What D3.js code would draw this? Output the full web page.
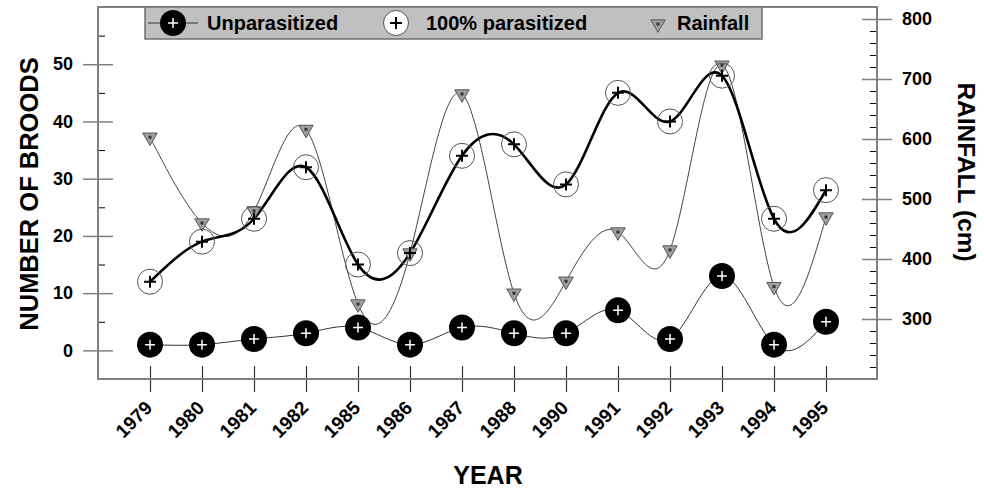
<!DOCTYPE html>
<html>
<head>
<meta charset="utf-8">
<script src="https://cdn.jsdelivr.net/npm/d3@7/dist/d3.min.js"></script>
<style>
  html, body { margin: 0; padding: 0; background: #fff; }
  svg { display: block; font-family: "Liberation Sans", Arial, sans-serif; font-weight: bold; }
</style>
</head>
<body>
<svg id="chart" width="984" height="488"></svg>
<script>
// Survey years (not consecutive)
const years = ["1979","1980","1981","1982","1985","1986","1987","1988","1990","1991","1992","1993","1994","1995"];
// Number of broods per year
const unparasitized = [1, 1, 2, 3, 4, 1, 4, 3, 3, 7, 2, 13, 1, 5];
const parasitized100 = [12, 19, 23, 32, 15, 17, 34, 36, 29, 45, 40, 48, 23, 28];
// Annual rainfall (cm)
const rainfall = [603, 460, 480, 616, 325, 410, 675, 343, 363, 445, 415, 723, 354, 470];

const leftTicks = [0, 10, 20, 30, 40, 50];
const leftMinor = [5, 15, 25, 35, 45, 55];
const rightTicks = [300, 400, 500, 600, 700, 800];
const rightMinor = [220, 240, 260, 280, 320, 340, 360, 380, 420, 440, 460, 480, 520, 540, 560, 580, 620, 640, 660, 680, 720, 740, 760, 780];
const seriesNames = ["Unparasitized", "100% parasitized", "Rainfall"];

const svg = d3.select("#chart");
const L = 98, R = 877, T = 7, B = 379;
const FONT = "Liberation Sans, Arial, sans-serif";

const x = d3.scalePoint().domain(years).range([L, R + 1]).padding(1);
const yL = d3.scaleLinear().domain([-5, 60]).range([B, T]);
const yR = d3.scaleLinear().domain([200, 820]).range([B, T]);

const frameColor = "#808080";

// Minor ticks (inside the frame)
svg.append("g").attr("transform", `translate(${L},0)`)
  .call(d3.axisRight(yL).tickValues(leftMinor).tickSize(7).tickFormat(""))
  .call(g => g.select(".domain").remove())
  .call(g => g.selectAll("line").attr("stroke", "#000"));
svg.append("g").attr("transform", `translate(${R},0)`)
  .call(d3.axisLeft(yR).tickValues(rightMinor).tickSize(7).tickFormat(""))
  .call(g => g.select(".domain").remove())
  .call(g => g.selectAll("line").attr("stroke", "#000"));

// Left axis, major ticks crossing the frame
svg.append("g").attr("transform", `translate(${L},0)`)
  .call(d3.axisLeft(yL).tickValues(leftTicks).tickSize(15).tickPadding(10))
  .attr("font-size", 18).attr("font-family", FONT)
  .call(g => g.select(".domain").remove())
  .call(g => g.selectAll("line").attr("x1", -15).attr("x2", 15).attr("stroke", frameColor).attr("stroke-width", 1.5))
  .call(g => g.selectAll("text").attr("fill", "#000"));

// Right axis
svg.append("g").attr("transform", `translate(${R},0)`)
  .call(d3.axisRight(yR).tickValues(rightTicks).tickSize(15).tickPadding(10))
  .attr("font-size", 18).attr("font-family", FONT)
  .call(g => g.select(".domain").remove())
  .call(g => g.selectAll("line").attr("x1", -15).attr("x2", 15).attr("stroke", frameColor).attr("stroke-width", 1.5))
  .call(g => g.selectAll("text").attr("fill", "#000"));

// Bottom axis with rotated year labels
svg.append("g").attr("transform", `translate(0,${B})`)
  .call(d3.axisBottom(x).tickSize(13).tickPadding(0))
  .attr("font-size", 19).attr("font-family", FONT)
  .call(g => g.select(".domain").remove())
  .call(g => g.selectAll("line").attr("y1", -13).attr("y2", 13).attr("stroke", "#333").attr("stroke-width", 1.2))
  .call(g => g.selectAll("text")
    .attr("fill", "#000")
    .attr("text-anchor", "end").attr("dy", null).attr("y", null)
    .attr("transform", "translate(3,30) rotate(-45)"));

// Frame
svg.append("rect").attr("x", L).attr("y", T).attr("width", R - L).attr("height", B - T)
  .attr("fill", "none").attr("stroke", frameColor).attr("stroke-width", 2);

// Lines
const lineL = vals => d3.line().x((d, i) => x(years[i])).y(d => yL(d)).curve(d3.curveNatural)(vals);
const lineR = vals => d3.line().x((d, i) => x(years[i])).y(d => yR(d)).curve(d3.curveNatural)(vals);

svg.append("path").attr("d", lineR(rainfall)).attr("fill", "none").attr("stroke", "#444").attr("stroke-width", 1);
svg.append("path").attr("d", lineL(unparasitized)).attr("fill", "none").attr("stroke", "#333").attr("stroke-width", 1);
svg.append("path").attr("d", lineL(parasitized100)).attr("fill", "none").attr("stroke", "#000").attr("stroke-width", 2.6);

// Marker helpers
const tri = d3.symbol().type(d3.symbolTriangle).size(90)();
function rainMarker(g, cx, cy) {
  g.append("path").attr("d", tri).attr("transform", `translate(${cx},${cy}) rotate(180)`)
    .attr("fill", "#a0a0a0").attr("stroke", "#555").attr("stroke-width", 1);
  g.append("rect").attr("x", cx - 1.5).attr("y", cy - 1.5).attr("width", 3).attr("height", 3).attr("fill", "#333");
}
function plus(g, cx, cy, r, color, w) {
  g.append("path").attr("d", `M${cx - r},${cy}H${cx + r}M${cx},${cy - r}V${cy + r}`)
    .attr("stroke", color).attr("stroke-width", w).attr("fill", "none");
}
function openMarker(g, cx, cy, fill) {
  g.append("circle").attr("cx", cx).attr("cy", cy).attr("r", 12.5)
    .attr("fill", fill).attr("stroke", "#555").attr("stroke-width", 1);
  plus(g, cx, cy, 6, "#000", 2);
}
function filledMarker(g, cx, cy) {
  g.append("circle").attr("cx", cx).attr("cy", cy).attr("r", 13).attr("fill", "#000");
  plus(g, cx, cy, 5, "#fff", 1.5);
}

const marks = svg.append("g");
rainfall.forEach((v, i) => rainMarker(marks, x(years[i]), yR(v)));
parasitized100.forEach((v, i) => openMarker(marks, x(years[i]), yL(v), "none"));
unparasitized.forEach((v, i) => filledMarker(marks, x(years[i]), yL(v)));

// Legend
const leg = svg.append("g");
leg.append("rect").attr("x", 145).attr("y", 7).attr("width", 617).attr("height", 32)
  .attr("fill", "#c0c0c0").attr("stroke", "#707070").attr("stroke-width", 1.5);
leg.append("line").attr("x1", 148).attr("x2", 198).attr("y1", 23).attr("y2", 23).attr("stroke", "#333").attr("stroke-width", 1);
filledMarker(leg, 173, 23);
openMarker(leg, 396, 23, "#fff");
rainMarker(leg, 658, 24);
const legX = [207, 426, 677];
leg.selectAll("text.lg").data(seriesNames).join("text")
  .attr("x", (d, i) => legX[i]).attr("y", 30)
  .attr("font-size", 20).attr("fill", "#000").text(d => d);

// Axis titles
svg.append("text").attr("transform", "translate(38,194) rotate(-90)").attr("text-anchor", "middle")
  .attr("font-size", 25.5).text("NUMBER OF BROODS");
svg.append("text").attr("transform", "translate(958,172) rotate(90)").attr("text-anchor", "middle")
  .attr("font-size", 24.5).text("RAINFALL (cm)");
svg.append("text").attr("x", 488).attr("y", 484).attr("text-anchor", "middle")
  .attr("font-size", 25).text("YEAR");
</script>
</body>
</html>
